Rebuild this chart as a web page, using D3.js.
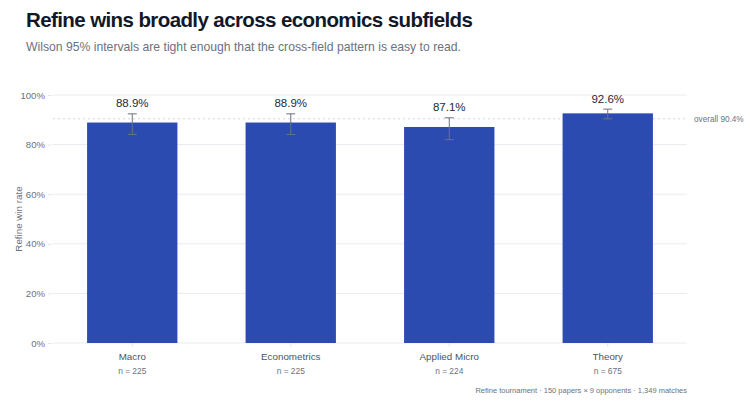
<!DOCTYPE html>
<html><head><meta charset="utf-8">
<script src="https://cdn.jsdelivr.net/npm/d3@7"></script>
<style>
body{margin:0;background:#fff;}
svg{font-family:"Liberation Sans",Arial,Helvetica,sans-serif;}
</style></head>
<body><svg id="c" width="750" height="415"></svg>
<script>
const categories = ["Macro","Econometrics","Applied Micro","Theory"];
const winRates = [0.889, 0.889, 0.871, 0.926];
const ciLow = [0.841, 0.841, 0.820, 0.904];
const ciHigh = [0.924, 0.924, 0.908, 0.943];
const counts = [225, 225, 224, 675];
const overallRate = 0.904;
const yTicks = [0, 0.2, 0.4, 0.6, 0.8, 1.0];

const svg = d3.select("#c");
const m = {left:53, right:687, top:95, bottom:343};
const x = d3.scaleBand().domain(categories).range([m.left, m.right]).paddingInner(0.43).paddingOuter(0.215);
const y = d3.scaleLinear().domain([0,1]).range([m.bottom, m.top]);
const fmt = d3.format(".1%");

svg.append("text").attr("x",26).attr("y",27).attr("font-size",20.5).attr("font-weight","bold").attr("fill","#111827")
  .attr("letter-spacing","-0.6px")
  .text("Refine wins broadly across economics subfields");
svg.append("text").attr("x",26).attr("y",51).attr("font-size",12.2).attr("fill","#6b7280")
  .text("Wilson 95% intervals are tight enough that the cross-field pattern is easy to read.");

// grid
svg.append("g").selectAll("line").data(yTicks).join("line")
  .attr("x1",m.left).attr("x2",m.right).attr("y1",d=>y(d)).attr("y2",d=>y(d))
  .attr("stroke","#e9ebf0").attr("stroke-width",1);

// y axis
const yAxis = d3.axisLeft(y).tickValues(yTicks).tickFormat(d3.format(".0%")).tickSize(4).tickPadding(3);
const gy = svg.append("g").attr("transform",`translate(${m.left-1},0)`).call(yAxis);
gy.select(".domain").remove();
gy.selectAll(".tick line").attr("stroke","#e5e7eb");
gy.selectAll(".tick text").attr("fill","#6b7280").attr("font-size",9.6).attr("font-family","Liberation Sans,Arial,sans-serif");

svg.append("text").attr("transform",`translate(22,${(m.top+m.bottom)/2}) rotate(-90)`)
  .attr("text-anchor","middle").attr("font-size",9.8).attr("fill","#6b7280").text("Refine win rate");

// overall line
svg.append("line").attr("x1",m.left).attr("x2",m.right).attr("y1",y(overallRate)).attr("y2",y(overallRate))
  .attr("stroke","#d1d5db").attr("stroke-dasharray","2,3").attr("stroke-width",1);
svg.append("text").attr("x",694).attr("y",y(overallRate)+3).attr("font-size",8.2).attr("fill","#6b7280")
  .text("overall " + fmt(overallRate));

// bars
const data = categories.map((c,i)=>({c, v:winRates[i], lo:ciLow[i], hi:ciHigh[i], n:counts[i]}));
svg.append("g").selectAll("rect").data(data).join("rect")
  .attr("x",d=>x(d.c)).attr("width",x.bandwidth()).attr("y",d=>y(d.v)).attr("height",d=>y(0)-y(d.v))
  .attr("fill","#2c4bb1");

// error bars
const eg = svg.append("g").attr("stroke","#6b7280").attr("stroke-width",1);
data.forEach(d=>{
  const cx = x(d.c)+x.bandwidth()/2;
  eg.append("line").attr("x1",cx).attr("x2",cx).attr("y1",y(d.lo)).attr("y2",y(d.hi));
  eg.append("line").attr("x1",cx-4.5).attr("x2",cx+4.5).attr("y1",y(d.lo)).attr("y2",y(d.lo));
  eg.append("line").attr("x1",cx-4.5).attr("x2",cx+4.5).attr("y1",y(d.hi)).attr("y2",y(d.hi));
});

// value labels
svg.append("g").selectAll("text").data(data).join("text")
  .attr("x",d=>x(d.c)+x.bandwidth()/2).attr("y",d=>y(d.hi)-6.5).attr("text-anchor","middle")
  .attr("font-size",11.5).attr("fill","#1f2937").text(d=>fmt(d.v));

// x axis
const xAxis = d3.axisBottom(x).tickSize(4).tickPadding(6);
const gx = svg.append("g").attr("transform",`translate(0,${m.bottom})`).call(xAxis);
gx.select(".domain").remove();
gx.selectAll(".tick line").attr("stroke","#e5e7eb");
gx.selectAll(".tick text").attr("fill","#4b5563").attr("font-size",9.8).attr("font-family","Liberation Sans,Arial,sans-serif");
svg.append("g").selectAll("text").data(data).join("text")
  .attr("x",d=>x(d.c)+x.bandwidth()/2).attr("y",374).attr("text-anchor","middle")
  .attr("font-size",8.4).attr("fill","#6b7280").text(d=>"n = "+d.n);

svg.append("text").attr("x",m.right).attr("y",393).attr("text-anchor","end").attr("font-size",7.5).attr("fill","#6b7280")
  .text("Refine tournament · 150 papers × 9 opponents · 1,349 matches");
</script></body></html>
